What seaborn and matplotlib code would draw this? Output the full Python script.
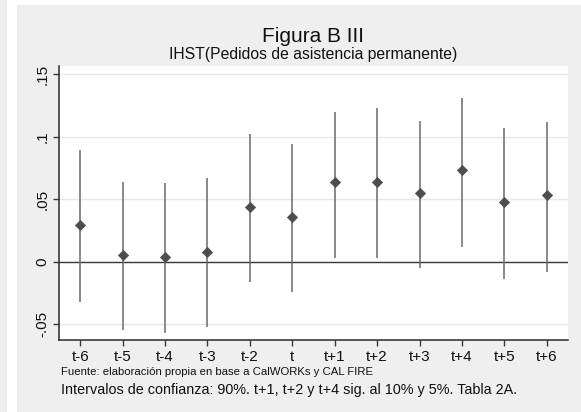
import matplotlib
matplotlib.use("Agg")
import matplotlib.pyplot as plt
import matplotlib.patches as mpatches
import seaborn as sns
import pandas as pd
import numpy as np

periods = ["t-6", "t-5", "t-4", "t-3", "t-2", "t", "t+1", "t+2", "t+3", "t+4", "t+5", "t+6"]
coef = [0.029, 0.005, 0.004, 0.008, 0.044, 0.036, 0.0635, 0.0635, 0.055, 0.073, 0.048, 0.053]
ci_low = [-0.032, -0.055, -0.057, -0.052, -0.016, -0.024, 0.003, 0.003, -0.005, 0.012, -0.0135, -0.0085]
ci_high = [0.089, 0.064, 0.063, 0.0665, 0.102, 0.094, 0.120, 0.1225, 0.1125, 0.131, 0.107, 0.1115]
yticks = [-0.05, 0, 0.05, 0.1, 0.15]
ytick_labels = ["-.05", "0", ".05", ".1", ".15"]

df = pd.DataFrame({"period": periods, "coef": coef, "lo": ci_low, "hi": ci_high})
df["pos"] = np.arange(len(df))

sns.set_theme(style="white")
plt.rcParams["font.family"] = ["Liberation Sans", "DejaVu Sans"]

W, H = 581, 412
fig = plt.figure(figsize=(W / 100, H / 100), dpi=100)
fig.patch.set_facecolor("white")
bg = "#efefef"
# screenshot frame: gray strip at left, white gap, gray graph region
fig.patches.append(mpatches.Rectangle((0, 0), 7 / W, 1, transform=fig.transFigure, facecolor=bg, edgecolor="none", zorder=-10))
fig.patches.append(mpatches.Rectangle((17 / W, 0), 1 - 17 / W, 1 - 5 / H, transform=fig.transFigure, facecolor=bg, edgecolor="none", zorder=-10))

left, right, top, bottom = 59, 568, 66, 340
ax = fig.add_axes([left / W, 1 - bottom / H, (right - left) / W, (bottom - top) / H])
ax.set_zorder(1)
ax.set_facecolor("white")

for y in yticks:
    ax.axhline(y, color="#e8e8e8", lw=1.0, zorder=0)
ax.axhline(0, color="#3a3a3a", lw=1.0, zorder=1)

ax.vlines(df["pos"], df["lo"], df["hi"], color="#6a6a6a", lw=1.1, zorder=2)
sns.scatterplot(data=df, x="pos", y="coef", marker="D", s=28, color="#4d4d4d", edgecolor="#4d4d4d", ax=ax, zorder=3, legend=False)

ax.set_xlim(-0.5, 11.5)
ax.set_ylim(-0.0626, 0.1564)
ax.set_xticks(df["pos"])
ax.set_xticklabels(periods)
ax.set_yticks(yticks)
ax.set_yticklabels(ytick_labels, rotation=90, va="center")
ax.set_xlabel("")
ax.set_ylabel("")
ax.tick_params(axis="both", which="both", direction="out", length=4, width=1, color="#3a3a3a", labelsize=11, labelcolor="#111111", pad=3, bottom=True, left=True)
for s in ["top", "right"]:
    ax.spines[s].set_visible(False)
for s in ["left", "bottom"]:
    ax.spines[s].set_color("#2a2a2a")
    ax.spines[s].set_linewidth(1.1)

fig.text(313 / W, 1 - 36 / H, "Figura B III", ha="center", va="center", fontsize=15, color="#111111")
fig.text(313 / W, 1 - 55 / H, "IHST(Pedidos de asistencia permanente)", ha="center", va="center", fontsize=11.3, color="#111111")
fig.text(61 / W, 1 - 372 / H, "Fuente: elaboración propia en base a CalWORKs y CAL FIRE", ha="left", va="center", fontsize=8.2, color="#111111")
fig.text(61 / W, 1 - 390 / H, "Intervalos de confianza: 90%. t+1, t+2 y t+4 sig. al 10% y 5%. Tabla 2A.", ha="left", va="center", fontsize=10.4, color="#111111")

fig.savefig("out.png", dpi=100, facecolor=fig.get_facecolor())
